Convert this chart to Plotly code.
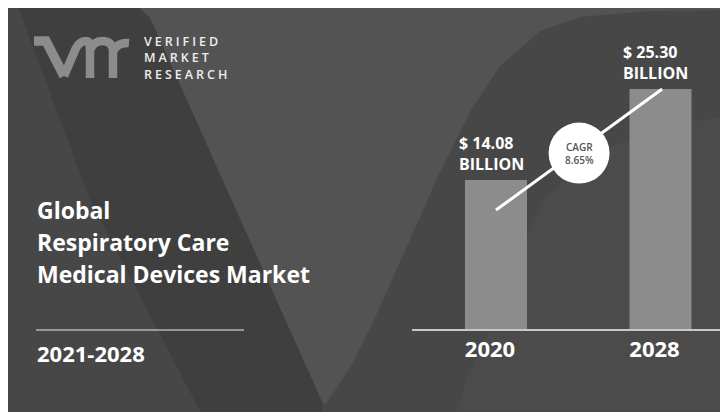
import numpy as np
import plotly.graph_objects as go

# ---------------- data ----------------
years = ["2020", "2028"]
market_values = [14.08, 25.30]          # USD billion
value_labels = ["$ 14.08<br>BILLION", "$ 25.30<br>BILLION"]
cagr_label = "CAGR<br>8.65%"
title_lines = ["Global", "Respiratory Care", "Medical Devices Market"]
period_label = "2021-2028"
brand_lines = ["VERIFIED", "MARKET", "RESEARCH"]

W, H = 728, 412
OFF = 8            # page body margin
FONT = "Open Sans"


def px(x):
    return (x - OFF) / W


def py(y):
    return 1 - (y - OFF) / H


def poly(points):
    return "M " + " L ".join(f"{px(x):.5f},{py(y):.5f}" for x, y in points) + " Z"


def pathstr(cmds):
    out = []
    for c in cmds:
        out.append(c if isinstance(c, str) else f"{px(c[0]):.5f},{py(c[1]):.5f}")
    return " ".join(out)


BG = "#474747"
shapes = []
# lower-right curved region
shapes.append(dict(type="path", xref="paper", yref="paper", layer="below", line_width=0,
                   fillcolor="#4b4b4b",
                   path=poly([(452, 430), (468, 375), (490, 330), (515, 258), (545, 198), (590, 157),
                              (650, 129), (740, 114), (740, 430)])))
# V interior
shapes.append(dict(type="path", xref="paper", yref="paper", layer="below", line_width=0,
                   fillcolor="#535353",
                   path=poly([(138, 7), (150, 18), (322, 402), (326, 404), (350, 368), (375, 318),
                              (413, 233), (440, 172), (470, 112), (500, 66), (540, 31), (580, 17),
                              (650, 11), (740, 10), (740, 7)])))
# dark diagonal band
shapes.append(dict(type="path", xref="paper", yref="paper", layer="below", line_width=0,
                   fillcolor="#3f3f3f",
                   path=poly([(18, 7), (138, 7), (150, 18), (322, 402), (322, 430), (210, 430),
                              (90, 200)])))

# logo (stylised "vmr")
LOGO = "#8c8c8c"
for cmds, w in [
    (["M", (34, 41), "L", (46, 41), "L", (64, 76)], 9.5),
    (["M", (64, 76), "L", (76, 48), "Q", (80, 41), (86, 41), "Q", (90, 41), (90, 50), "L", (90, 78)], 8.5),
    (["M", (90, 50), "Q", (94, 41), (102, 41), "Q", (113, 41), (113, 52), "L", (113, 78)], 8.5),
    (["M", (113, 52), "Q", (117, 42), (129, 43)], 8.5),
]:
    shapes.append(dict(type="path", xref="paper", yref="paper", layer="below",
                       line=dict(color=LOGO, width=w), fillcolor="rgba(0,0,0,0)", path=pathstr(cmds)))

# left divider
shapes.append(dict(type="line", xref="paper", yref="paper", x0=px(36), x1=px(244), y0=py(330), y1=py(330),
                   line=dict(color="#b4b4b4", width=1.5), layer="below"))

# axis geometry (log scale reproduces the drawn bar heights)
y_lo, y_hi = 0.7318, 1.6297
x_lo, x_hi = -0.5106, 1.459

fig = go.Figure()
fig.add_trace(go.Bar(x=years, y=market_values, width=0.377, marker=dict(color="#8c8c8c", line_width=0),
                     hoverinfo="skip"))

# CAGR trend line and badge
line_y0 = market_values[0] * 10 ** -0.084
line_y1 = market_values[1]
fig.add_trace(go.Scatter(x=[0, 1.01], y=[line_y0, line_y1], mode="lines", xaxis="x2", yaxis="y",
                         line=dict(color="white", width=3), hoverinfo="skip"))
circ_log = (np.log10(line_y0) + np.log10(line_y1)) / 2 - 0.01
fig.add_trace(go.Scatter(x=[0.505], y=[10 ** circ_log], mode="markers", xaxis="x2", yaxis="y",
                         marker=dict(color="white", size=61, line_width=0), hoverinfo="skip"))

annotations = []
for i, (v, lab) in enumerate(zip(market_values, value_labels)):
    annotations.append(dict(x=i, y=float(np.log10(v)), xref="x", yref="y", text=lab, showarrow=False,
                            xanchor="left", yanchor="bottom", align="left", xshift=-39, yshift=3,
                            font=dict(family=FONT, size=16, color="white", weight="bold")))
annotations.append(dict(x=0.505, y=float(circ_log), xref="x2", yref="y", text=cagr_label, showarrow=False,
                        xanchor="center", yanchor="middle", align="center",
                        font=dict(family=FONT, size=10, color="#555555", weight=600)))

title_y = [210, 242, 274]
for t, yy in zip(title_lines, title_y):
    annotations.append(dict(x=px(35), y=py(yy), xref="paper", yref="paper", text=t, showarrow=False,
                            xanchor="left", yanchor="middle",
                            font=dict(family=FONT, size=23, color="white", weight="bold")))
annotations.append(dict(x=px(35), y=py(353), xref="paper", yref="paper", text=period_label,
                        showarrow=False, xanchor="left", yanchor="middle",
                        font=dict(family=FONT, size=22, color="white", weight="bold")))

brand_text = "<br>".join(f'<span style="letter-spacing:3px">{t}</span>' for t in brand_lines)
annotations.append(dict(x=px(142), y=py(58), xref="paper", yref="paper", text=brand_text, showarrow=False,
                        xanchor="left", yanchor="middle", align="left",
                        font=dict(family=FONT, size=12.5, color="#eeeeee", weight=600)))

fig.update_layout(
    width=W, height=H, margin=dict(l=0, r=0, t=0, b=0),
    paper_bgcolor=BG, plot_bgcolor="rgba(0,0,0,0)",
    showlegend=False, shapes=shapes, annotations=annotations,
    xaxis=dict(domain=[px(412), 1], range=[x_lo, x_hi], type="category",
               showline=True, linecolor="#c8c8c8", linewidth=2, showgrid=False, zeroline=False,
               ticks="", ticklabelstandoff=0, ticklabelshift=-6,
               tickfont=dict(family=FONT, size=22, color="white", weight="bold")),
    xaxis2=dict(domain=[px(412), 1], range=[x_lo, x_hi], type="linear", overlaying="x",
                visible=False, showgrid=False, zeroline=False),
    yaxis=dict(domain=[py(329), 1], type="log", range=[y_lo, y_hi], visible=False,
               showgrid=False, zeroline=False),
)

fig.write_html("out.html")
